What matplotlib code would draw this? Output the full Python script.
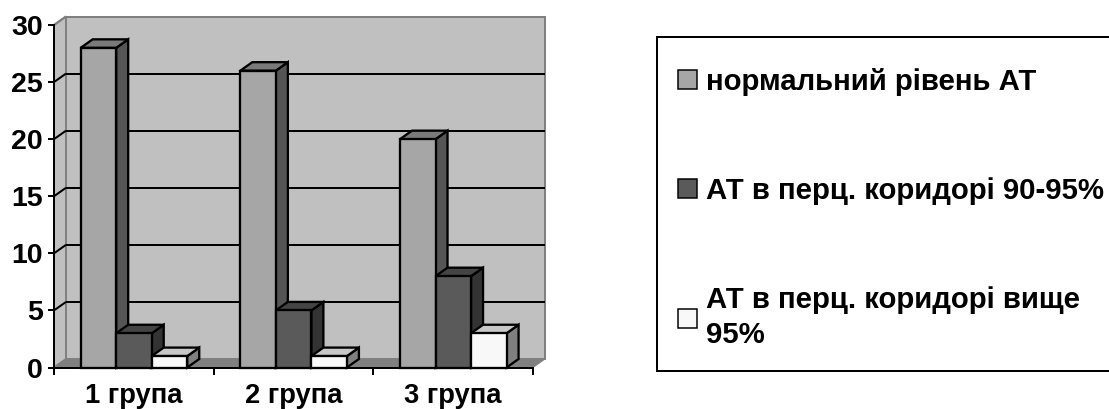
import matplotlib
matplotlib.use("Agg")
import matplotlib.pyplot as plt
from matplotlib.patches import Patch, Rectangle

plt.rcParams['font.family'] = ['Liberation Sans', 'DejaVu Sans']
plt.rcParams['font.weight'] = 'bold'

categories = ["1 група", "2 група", "3 група"]
series_names = ["нормальний рівень АТ", "АТ в перц. коридорі 90-95%", "АТ в перц. коридорі вище\n95%"]
normal = [28, 26, 20]
corridor_90_95 = [3, 5, 8]
corridor_above_95 = [1, 1, 3]
y_ticks = [0, 5, 10, 15, 20, 25, 30]

W, H = 1109, 409
px = 0.72
fig = plt.figure(figsize=(W / 100, H / 100), dpi=100, facecolor='white')
L, R, B, T = 54, 533, 367.5, 25
ax = fig.add_axes([L / W, 1 - B / H, (R - L) / W, (B - T) / H])
ax.set_xlim(0, 3)
ax.set_ylim(0, 30)
ax.patch.set_visible(False)
for s in ['top', 'right']:
    ax.spines[s].set_visible(False)
for s in ['left', 'bottom']:
    ax.spines[s].set_linewidth(2 * px)
    ax.spines[s].set_zorder(20)

dx = 12 / ((R - L) / 3)
dy = 8.5 / ((B - T) / 30)
ymax = y_ticks[-1]

wall = '#C0C0C0'
edge = '#808080'
# back wall, side wall, floor
ax.fill([dx, 3 + dx, 3 + dx, dx], [dy, dy, ymax + dy, ymax + dy], facecolor=wall,
        edgecolor=edge, linewidth=2 * px, clip_on=False, zorder=1)
ax.fill([0, dx, dx, 0], [0, dy, ymax + dy, ymax], facecolor=wall,
        edgecolor=edge, linewidth=2 * px, clip_on=False, zorder=1)
ax.fill([0, 3, 3 + dx, dx], [0, 0, dy, dy], facecolor=edge,
        edgecolor=edge, linewidth=1 * px, clip_on=False, zorder=1.5)
for v in y_ticks[1:-1]:
    ax.plot([dx, 3 + dx], [v + dy, v + dy], color='black', lw=2 * px, clip_on=False, zorder=2,
            solid_capstyle='butt')
for v in y_ticks[1:]:
    ax.plot([0, dx], [v, v + dy], color='black' if v < ymax else edge, lw=2 * px, clip_on=False, zorder=2,
            solid_capstyle='butt')

series = [normal, corridor_90_95, corridor_above_95]
front = ['#A6A6A6', '#5A5A5A', '#F8F8F8']
top = ['#7A7A7A', '#444444', '#C8C8C8']
side = ['#555555', '#333333', '#808080']
bw = 0.2225
start = 0.167
kw = dict(edgecolor='black', linewidth=2.3 * px, clip_on=False, joinstyle='miter')
for i in range(3):          # groups
    for j in range(3):      # series: later ones overlap earlier ones
        v = series[j][i]
        x0 = i + start + j * bw
        x1 = x0 + bw
        z = 5 + j
        ax.fill([x1, x1 + dx, x1 + dx, x1], [0, dy, v + dy, v], facecolor=side[j], zorder=z, **kw)
        ax.fill([x0, x1, x1 + dx, x0 + dx], [v, v, v + dy, v + dy], facecolor=top[j], zorder=z, **kw)
        ax.bar(x0, v, width=bw, align='edge', facecolor=front[j], zorder=z + 0.5, **kw)

ax.set_yticks(y_ticks)
ax.set_xticks([0, 1, 2, 3])
ax.set_xticklabels([])
ax.set_xticks([0.5, 1.5, 2.5], minor=True)
ax.set_xticklabels(categories, minor=True, fontsize=19.7, fontweight='bold')
ax.tick_params(axis='x', which='major', length=5, width=2 * px, direction='out')
ax.tick_params(axis='x', which='minor', length=0, pad=11)
ax.tick_params(axis='y', length=4.5, width=2 * px, direction='out', pad=3.6, labelsize=20.5)

# legend frame runs past the right edge of the picture
fig.add_artist(Rectangle((657 / W, 1 - 371 / H), 470 / W, 334 / H, transform=fig.transFigure,
                         facecolor='white', edgecolor='black', linewidth=2 * px, zorder=0.5))

fs = 21.2
handles = [Patch(facecolor=c, edgecolor='black', linewidth=1.5 * px) for c in front]
leg = fig.legend(handles, series_names, loc='upper left',
                 bbox_to_anchor=(657 / W, 1 - 41 / H), bbox_transform=fig.transFigure,
                 prop={'family': 'Liberation Sans', 'weight': 'bold', 'size': fs},
                 frameon=False, borderaxespad=0, borderpad=0.92, labelspacing=2.75,
                 handlelength=0.64, handleheight=0.64, handletextpad=0.12)
for t in leg.get_texts():
    t.set_linespacing(1.33)
for h in leg.legend_handles:
    h.set_x(h.get_x() - 6 * px)

fig.savefig('out.png', dpi=100)
